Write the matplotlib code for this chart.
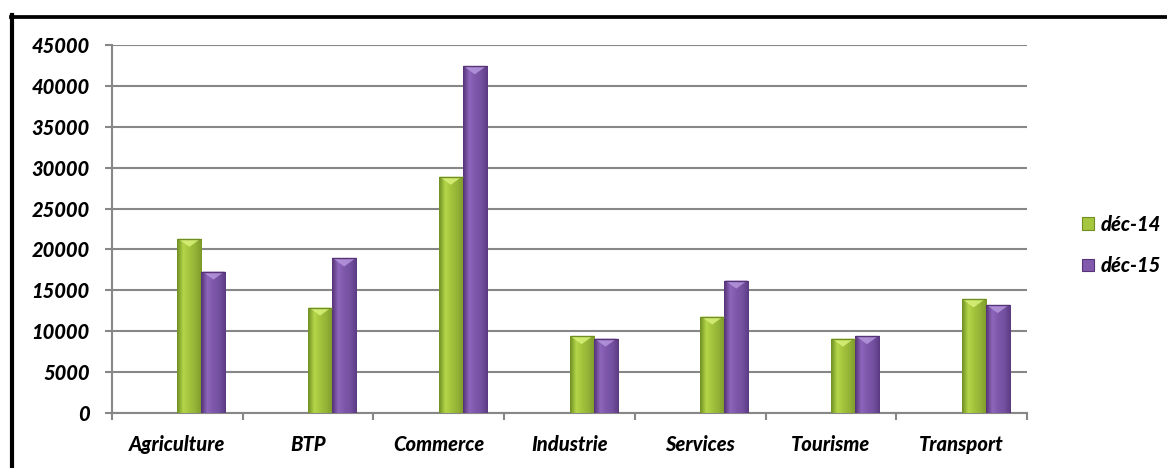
import numpy as np
import matplotlib.pyplot as plt
from matplotlib.colors import LinearSegmentedColormap
from matplotlib.patches import Polygon, Patch
from matplotlib.lines import Line2D

# Effectifs par secteur, décembre 2014 et décembre 2015
secteurs = ['Agriculture', 'BTP', 'Commerce', 'Industrie', 'Services', 'Tourisme', 'Transport']
dec14 = [21300, 12900, 28900, 9400, 11800, 9100, 13900]
dec15 = [17300, 18900, 42400, 9100, 16200, 9400, 13200]
series_labels = ['déc-14', 'déc-15']
yticks = list(range(0, 45001, 5000))

plt.rcParams['font.family'] = ['Lato', 'DejaVu Sans']
FONT = dict(fontsize=14.5, fontweight=900, fontstyle='italic')

# colour ramps across each bar: dark edge, light face, darker right side
green_cmap = LinearSegmentedColormap.from_list(
    'g', ['#6f8f22', '#b5d64a', '#a2c23c', '#93b236', '#7d9b2a'])
purple_cmap = LinearSegmentedColormap.from_list(
    'p', ['#553376', '#8e66bc', '#7e57aa', '#7450a0', '#5c3a82'])
green_top = '#d9f27a'
purple_top = '#b596dc'

fig = plt.figure(figsize=(11.67, 4.68), dpi=100)
ax = fig.add_axes([112 / 1167, 55 / 468, 915 / 1167, 368 / 468])

n = len(secteurs)
x = np.arange(n) + 0.5
w = 0.184
ymax = 45000
bevel = ymax * 0.022
grad = np.linspace(0, 1, 64).reshape(1, -1)


def draw_bars(xs, values, cmap, top_color):
    for x0, v in zip(xs, values):
        rect = ax.bar(x0, v, width=w, align='edge', color=cmap(0.5),
                      edgecolor='none', zorder=3)[0]
        im = ax.imshow(grad, cmap=cmap, extent=(x0, x0 + w, 0, v),
                       aspect='auto', zorder=3.1, interpolation='bilinear')
        im.set_clip_path(rect)
        tri = Polygon([[x0 + w * 0.04, v], [x0 + w * 0.96, v], [x0 + w / 2, v - bevel]],
                      closed=True, facecolor=top_color, edgecolor='none',
                      alpha=0.85, zorder=3.2)
        ax.add_patch(tri)
        ax.plot([x0, x0 + w], [v, v], color=cmap(0.0), lw=1.0, zorder=3.3,
                solid_capstyle='butt')


draw_bars(x, dec14, green_cmap, green_top)
draw_bars(x + w, dec15, purple_cmap, purple_top)

ax.set_xlim(0, n)
ax.set_ylim(0, ymax)

# axes, grid and ticks
grid_color = '#878787'
ax.set_yticks(yticks)
ax.set_yticklabels([str(t) for t in yticks], **FONT)
ax.yaxis.grid(True, color=grid_color, lw=1.5, zorder=1)
ax.set_axisbelow(True)
ax.tick_params(axis='y', length=5, width=1.5, color=grid_color, pad=11)

ax.set_xticks(np.arange(n + 1))
ax.set_xticklabels([])
ax.set_xticks(x, minor=True)
ax.set_xticklabels(secteurs, minor=True, **FONT)
ax.tick_params(axis='x', which='major', length=5, width=1.5, color=grid_color)
ax.tick_params(axis='x', which='minor', length=0, pad=16)

for side in ['top', 'right']:
    ax.spines[side].set_visible(False)
for side in ['left', 'bottom']:
    ax.spines[side].set_color(grid_color)
    ax.spines[side].set_linewidth(1.5)

# legend
handles = [Patch(facecolor=green_cmap(0.45), edgecolor=green_cmap(0.0), lw=0.8),
           Patch(facecolor=purple_cmap(0.45), edgecolor=purple_cmap(0.0), lw=0.8)]
fig.legend(handles, series_labels, loc='center left',
           bbox_to_anchor=(1064 / 1167, 1 - 245 / 468), frameon=False,
           prop=dict(family=['Lato', 'DejaVu Sans'], size=14.5, weight=900, style='italic'),
           handlelength=0.6, handleheight=0.6, handletextpad=0.3, labelspacing=1.1)

# outer frame (top and left edges)
fig.add_artist(Line2D([10.5 / 1167, 1], [1 - 16.5 / 468, 1 - 16.5 / 468],
                      color='black', lw=2.7, transform=fig.transFigure))
fig.add_artist(Line2D([12 / 1167, 12 / 1167], [0, 1 - 15 / 468],
                      color='black', lw=3.0, transform=fig.transFigure))

fig.savefig('out.png', dpi=100)
